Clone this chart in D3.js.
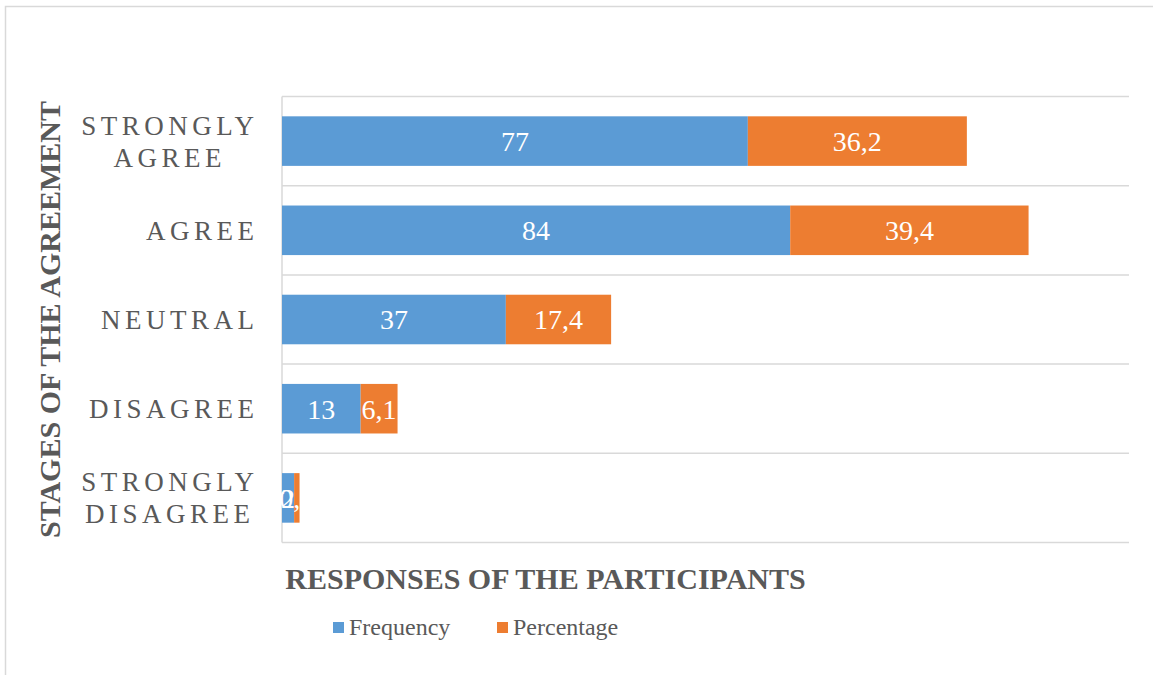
<!DOCTYPE html>
<html><head><meta charset="utf-8">
<script src="https://cdn.jsdelivr.net/npm/d3@7"></script>
<style>body{margin:0;background:#fff}svg{display:block}</style>
</head><body>
<svg id="c" width="1153" height="675"></svg>
<script>
const categories = [["STRONGLY","AGREE"],["AGREE"],["NEUTRAL"],["DISAGREE"],["STRONGLY","DISAGREE"]];
const frequency = [77, 84, 37, 13, 2];
const percentage = [36.2, 39.4, 17.4, 6.1, 0.9];
const seriesNames = ["Frequency", "Percentage"];
const colors = ["#5B9BD5", "#ED7D31"];
const xMax = 140;

(function(){
const svg = d3.select("#c");
const serif = "'Liberation Serif','Times New Roman',serif";
const gray = "#595959";
const grid = "#D9D9D9";

svg.append("rect").attr("x",5.5).attr("y",6.5).attr("width",1160).attr("height",680)
  .attr("fill","#fff").attr("stroke",grid).attr("stroke-width",1.5);

const pL = 282, pR = 1129, pT = 96.5, pB = 542.5;
const x = d3.scaleLinear().domain([0, xMax]).range([pL, pR]);
const y = d3.scaleBand().domain(d3.range(categories.length)).range([pT, pB]).paddingInner(0.4444).paddingOuter(0.2222);
const yb = d3.scaleBand().domain(d3.range(categories.length)).range([pT, pB]);

const bounds = d3.range(categories.length + 1).map(i => i < categories.length ? yb(i) : pB);
svg.append("g").selectAll("line").data(bounds).join("line")
  .attr("x1", pL).attr("x2", pR).attr("y1", d => d).attr("y2", d => d)
  .attr("stroke", grid).attr("stroke-width", 1.5);
svg.append("line").attr("x1", pL).attr("x2", pL).attr("y1", pT).attr("y2", pB)
  .attr("stroke", grid).attr("stroke-width", 1.5);

const rows = categories.map((c, i) => ({i, f: frequency[i], p: percentage[i]}));
const fmt = v => String(v).replace(".", ",");

const g = svg.append("g");
rows.forEach(r => {
  const segs = [{v: r.f, x0: 0, c: colors[0]}, {v: r.p, x0: r.f, c: colors[1]}];
  segs.forEach(s => {
    g.append("rect").attr("x", x(s.x0)).attr("y", y(r.i)).attr("width", x(s.x0 + s.v) - x(s.x0))
      .attr("height", y.bandwidth()).attr("fill", s.c);
  });
  segs.forEach(s => {
    g.append("text").attr("x", (x(s.x0) + x(s.x0 + s.v)) / 2).attr("y", y(r.i) + y.bandwidth()/2)
      .attr("dy", "0.35em").attr("text-anchor", "middle").attr("fill", "#fff")
      .attr("font-family", serif).attr("font-size", 28).text(fmt(s.v));
  });
});

// category labels: block right-aligned, lines centred within block
const ls = 4.5, labelRight = 254 + ls;
categories.forEach((lines, i) => {
  const cy = yb(i) + yb.bandwidth()/2;
  const lh = 32;
  const lg = svg.append("g");
  const texts = lines.map((t, k) => lg.append("text").attr("x", 0).attr("y", cy + (k - (lines.length-1)/2) * lh)
      .attr("dy", "0.35em").attr("text-anchor", "middle").attr("fill", gray)
      .attr("font-family", serif).attr("font-size", 27).attr("letter-spacing", ls).text(t));
  const w = d3.max(texts, t => t.node().getComputedTextLength());
  lg.attr("transform", `translate(${labelRight - w/2},0)`);
});

svg.append("text").attr("transform", `translate(60,${(pT+pB)/2}) rotate(-90)`)
  .attr("text-anchor", "middle").attr("fill", gray).attr("font-family", serif)
  .attr("font-weight", "bold").attr("font-size", 30).text("STAGES OF THE AGREEMENT");
svg.append("text").attr("x", 545.5).attr("y", 589).attr("text-anchor", "middle").attr("fill", gray)
  .attr("font-family", serif).attr("font-weight", "bold").attr("font-size", 30).text("RESPONSES OF THE PARTICIPANTS");

const legX = [333, 497];
seriesNames.forEach((n, i) => {
  svg.append("rect").attr("x", legX[i]).attr("y", 622).attr("width", 11).attr("height", 11).attr("fill", colors[i]);
  svg.append("text").attr("x", legX[i] + 16).attr("y", 635).attr("fill", gray)
    .attr("font-family", serif).attr("font-size", 24).text(n);
});
})();
</script>
</body></html>
